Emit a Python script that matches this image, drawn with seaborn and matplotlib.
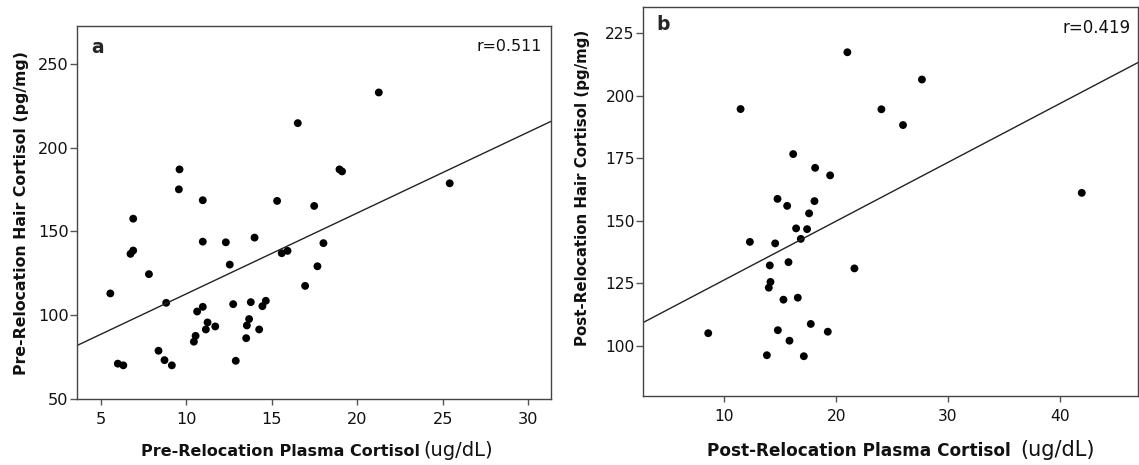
import numpy as np
import pandas as pd
import matplotlib
matplotlib.use("Agg")
import matplotlib.pyplot as plt
import seaborn as sns

# Panel a: pre-relocation plasma vs hair cortisol
pre_plasma = [21.26, 16.52, 9.60, 9.56, 10.96, 15.31, 17.48, 18.96, 19.11, 25.41,
              6.89, 6.89, 6.73, 10.96, 12.31, 13.99, 15.58, 15.92, 18.02, 12.54,
              17.67, 7.81, 5.55, 16.95, 8.82, 10.96, 10.63, 12.74, 13.77, 14.45,
              14.65, 11.24, 11.69, 11.14, 13.67, 13.54, 14.26, 10.54, 10.44, 13.50,
              8.37, 8.72, 12.89, 5.99, 6.31, 9.15]
pre_hair = [232.9, 214.6, 187.0, 175.1, 168.6, 168.2, 165.2, 187.0, 185.8, 178.7,
            157.6, 138.6, 136.6, 143.9, 143.5, 146.3, 137.0, 138.4, 143.0, 130.2,
            129.2, 124.5, 113.0, 117.5, 107.4, 105.0, 102.2, 106.6, 107.8, 105.4,
            108.6, 95.7, 93.3, 91.5, 97.7, 93.9, 91.5, 87.7, 84.2, 86.3,
            78.8, 73.2, 72.8, 71.1, 70.1, 70.1]

# Panel b: post-relocation plasma vs hair cortisol
post_plasma = [21.00, 27.66, 11.46, 24.04, 25.97, 16.16, 18.12, 19.46, 41.94, 14.76,
               18.06, 15.62, 17.58, 16.42, 17.40, 16.84, 12.29, 14.55, 14.07, 15.74,
               21.63, 14.13, 13.98, 15.29, 16.57, 17.73, 8.57, 14.79, 19.25, 15.83,
               13.81, 17.11]
post_hair = [217.4, 206.5, 194.7, 194.6, 188.3, 176.7, 171.2, 168.2, 161.2, 158.8,
             157.9, 156.0, 153.0, 147.0, 146.7, 142.8, 141.6, 141.0, 132.2, 133.5,
             131.0, 125.6, 123.3, 118.5, 119.3, 108.8, 105.1, 106.3, 105.7, 102.1,
             96.3, 95.9]

panel_letters = ["a", "b"]
r_labels = ["r=0.511", "r=0.419"]
x_names = ["Pre-Relocation Plasma Cortisol", "Post-Relocation Plasma Cortisol"]
y_labels = ["Pre-Relocation Hair Cortisol (pg/mg)", "Post-Relocation Hair Cortisol (pg/mg)"]
unit_label = "(ug/dL)"
x_ticks = [[5, 10, 15, 20, 25, 30], [10, 20, 30, 40]]
y_ticks = [[50, 100, 150, 200, 250], [100, 125, 150, 175, 200, 225]]

sns.set_style("ticks")
plt.rcParams["font.family"] = ["DejaVu Sans"]

fig = plt.figure(figsize=(11.39, 4.65), dpi=100)
ax_a = fig.add_axes([0.0676, 0.1419, 0.4162, 0.8020])
ax_b = fig.add_axes([0.5645, 0.1484, 0.4346, 0.8366])

frames = [
    pd.DataFrame({"plasma": pre_plasma, "hair": pre_hair}),
    pd.DataFrame({"plasma": post_plasma, "hair": post_hair}),
]
xlims = [(3.6, 31.34), (2.74, 46.96)]
ylims = [(50, 272.5), (80, 235.5)]
tick_sizes = [11.6, 11.2]
ylabel_sizes = [11.3, 10.8]
ylabel_coords = [(-0.102, 0.5), (-0.106, 0.535)]
r_sizes = [11.4, 12.0]
r_pos = [(0.981, 0.965), (0.986, 0.968)]
letter_pos = [(0.031, 0.968), (0.028, 0.979)]

for i, (ax, df) in enumerate(zip([ax_a, ax_b], frames)):
    ax.set_xlim(*xlims[i])
    ax.set_ylim(*ylims[i])
    sns.regplot(data=df, x="plasma", y="hair", ax=ax, ci=None, truncate=False,
                scatter_kws=dict(s=32, color="black", edgecolor="none", alpha=1),
                line_kws=dict(color="#222222", lw=1.0))
    ax.set_xlim(*xlims[i])
    ax.set_ylim(*ylims[i])
    ax.set_xticks(x_ticks[i])
    ax.set_yticks(y_ticks[i])
    ax.tick_params(axis="x", direction="out", length=4.5, width=1,
                   color="#555555", labelsize=tick_sizes[i], labelcolor="#111111", pad=5)
    ax.tick_params(axis="y", direction="out", length=5, width=1,
                   color="#555555", labelsize=tick_sizes[i], labelcolor="#111111", pad=1)
    for sp in ax.spines.values():
        sp.set_visible(True)
        sp.set_color("#444444")
        sp.set_linewidth(1.0)
    ax.set_xlabel("")
    ax.set_ylabel(y_labels[i], fontsize=ylabel_sizes[i], fontweight="bold", color="#111111")
    ax.yaxis.set_label_coords(*ylabel_coords[i])
    ax.text(*letter_pos[i], panel_letters[i], transform=ax.transAxes,
            fontsize=13.5, fontweight="bold", va="top", ha="left")
    ax.text(*r_pos[i], r_labels[i], transform=ax.transAxes,
            fontsize=r_sizes[i], va="top", ha="right", color="#111111")

# x-axis titles: bold name followed by the unit in a larger regular face
base_y = 0.0194
fig.text(141 / 1139, base_y, x_names[0], fontsize=11.5, fontweight="bold",
         ha="left", va="baseline", color="#111111")
fig.text(423 / 1139, base_y, unit_label, fontsize=14,
         ha="left", va="baseline", color="#111111")
fig.text(707 / 1139, base_y, x_names[1], fontsize=12.2, fontweight="bold",
         ha="left", va="baseline", color="#111111")
fig.text(1020 / 1139, base_y, unit_label, fontsize=15,
         ha="left", va="baseline", color="#111111")

fig.savefig("out.png", dpi=100)
